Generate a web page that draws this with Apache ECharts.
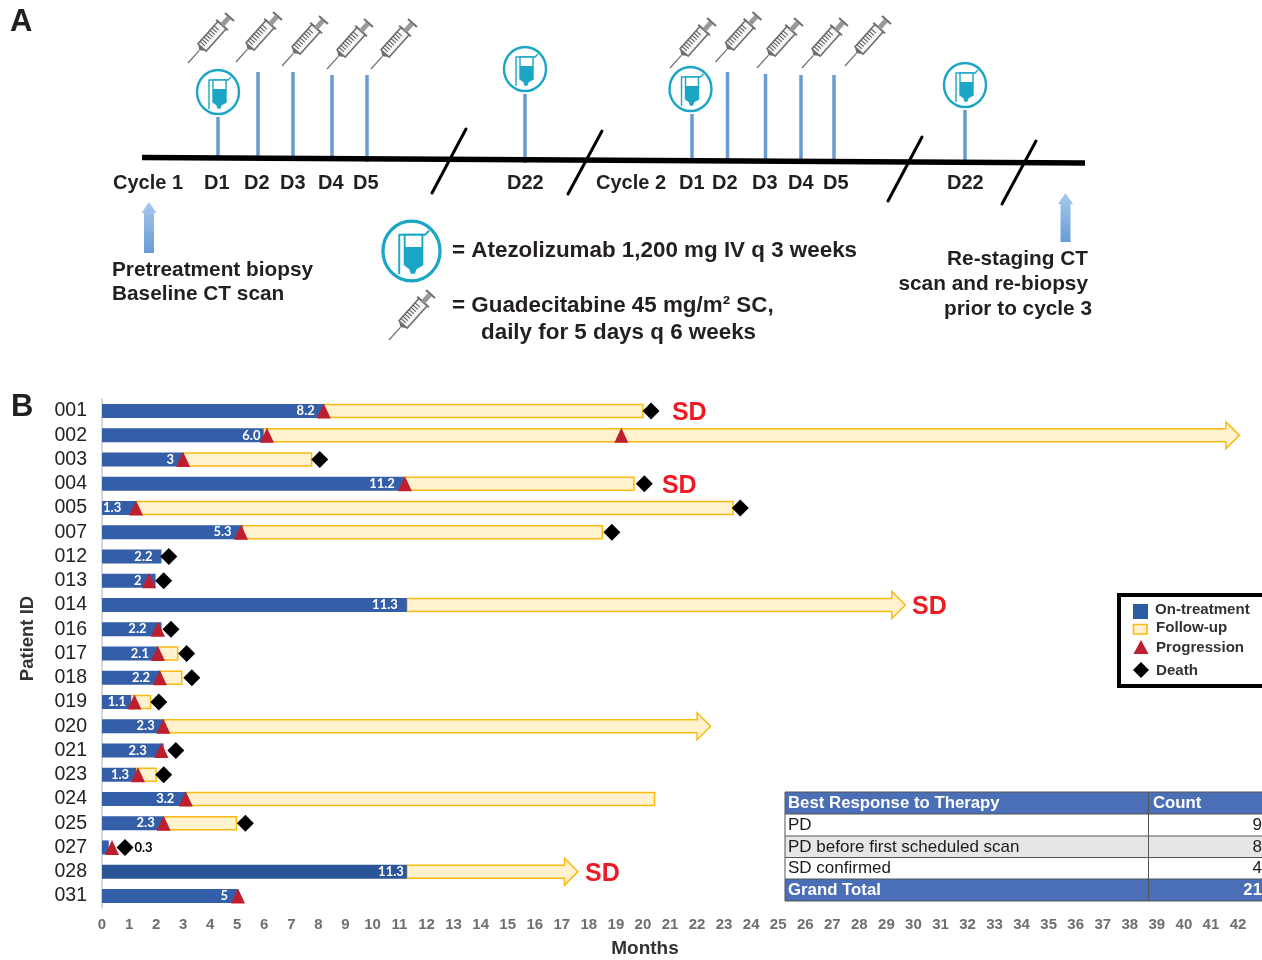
<!DOCTYPE html>
<html>
<head>
<meta charset="UTF-8">
<title>Atezolizumab + guadecitabine schema and swimmer plot</title>
<style>
html,body{margin:0;padding:0;background:#fff;}
#main{width:1262px;height:960px;}
</style>
</head>
<body>
<div id="main"></div>
<script src="https://cdn.jsdelivr.net/npm/echarts@6/dist/echarts.min.js"></script>
<script>
// panel B data, months
var patients = ['001','002','003','004','005','007','012','013','014','016','017','018','019','020','021','023','024','025','027','028','031'];
var onTreatment = [8.2,5.97,3.0,11.16,1.26,5.2,2.2,1.98,11.27,2.2,2.07,2.15,1.07,2.28,2.28,1.26,3.12,2.28,0.25,11.27,5.03];
var treatmentLabels = ['8.2','6.0','3','11.2','1.3','5.3','2.2','2','11.3','2.2','2.1','2.2','1.1','2.3','2.3','1.3','3.2','2.3','','11.3','5'];
var followUpEnd = [20.0,42.05,7.75,19.67,23.33,18.5,null,null,29.7,null,2.8,2.95,1.8,22.5,null,2.0,20.43,4.97,null,17.6,null];
var ongoingRows = ['002','014','020','028'];
var progressionRows = ['001','002','002','003','004','005','007','013','016','017','018','019','020','021','023','024','025','027','031'];
var progressionMonths = [8.2,6.1,19.2,3.0,11.2,1.26,5.14,1.74,2.07,2.07,2.14,1.2,2.27,2.2,1.33,3.1,2.28,0.37,5.03];
var deathRows = ['001','003','004','005','007','012','013','016','017','018','019','021','023','025','027'];
var deathMonths = [20.3,8.05,20.05,23.6,18.85,2.47,2.28,2.55,3.13,3.32,2.1,2.73,2.28,5.3,0.85];
var sdRows = ['001','004','014','028'];
var sdMonths = [21.07,20.7,29.95,17.86];
var legendNames = ['On-treatment','Follow-up','Progression','Death'];
var tableHeader = ['Best Response to Therapy','Count'];
var tableNames = ['PD','PD before first scheduled scan','SD confirmed'];
var tableCounts = [9,8,4];
var tableTotal = ['Grand Total',21];

var BLUE = '#345ea7', GOLD = '#fdb913', CREAM = '#fff2cc', RED = '#be1e2d', TEAL = '#1ba6c6', TICK = '#6a9bd1', INK = '#231f20';
var SANS = '"Liberation Sans", Arial, sans-serif';
var BOLD = 'bold 20px ' + SANS, BOLD_MID = 'bold 20.8px ' + SANS, BOLD_BIG = 'bold 22.4px ' + SANS;

var g = [];

function txt(x, y, s, font, fill, align) {
	g.push({type:'text', silent:true, z:5, style:{x:x, y:y, text:s, font:font||BOLD, fill:fill||INK,
		textAlign:align||'left', textVerticalAlign:'middle', align:align||'left', verticalAlign:'middle'}});
}
function seg(x1, y1, x2, y2, color, w, cap) {
	g.push({type:'line', silent:true, shape:{x1:x1,y1:y1,x2:x2,y2:y2}, style:{stroke:color, lineWidth:w, lineCap:cap||'round'}});
}
function syringe(x, y, k) {
	var c = '#6f6f6f', kids = [
		{type:'line', shape:{x1:0,y1:0,x2:17,y2:0}, style:{stroke:c,lineWidth:1.2}},
		{type:'polygon', shape:{points:[[17,0],[21,-5.5],[21,5.5]]}, style:{fill:c}},
		{type:'rect', shape:{x:21,y:-5.5,width:30,height:11}, style:{fill:'#f5f5f5',stroke:c,lineWidth:1.5}},
		{type:'line', shape:{x1:51,y1:-8,x2:51,y2:8}, style:{stroke:c,lineWidth:1.8}},
		{type:'line', shape:{x1:51,y1:0,x2:61,y2:0}, style:{stroke:'#999',lineWidth:5}},
		{type:'line', shape:{x1:62,y1:-6,x2:62,y2:6}, style:{stroke:c,lineWidth:2}}
	];
	for (var i = 0; i < 8; i++) {
		kids.push({type:'line', shape:{x1:24+i*3,y1:-5.5,x2:24+i*3,y2:1}, style:{stroke:'#555',lineWidth:1}});
	}
	g.push({type:'group', silent:true, x:x, y:y, rotation:48*Math.PI/180, scaleX:k, scaleY:k, children:kids});
}
function ivBag(x, y, k) {
	g.push({type:'group', silent:true, x:x, y:y, scaleX:k, scaleY:k, children:[
		{type:'ellipse', shape:{cx:0,cy:0,rx:21,ry:22}, style:{fill:'#fff',stroke:TEAL,lineWidth:2.4}},
		{type:'polyline', shape:{points:[[-9,17],[-9,-12],[10,-12],[13,-15]]}, style:{stroke:TEAL,lineWidth:1.4,fill:null}},
		{type:'polygon', shape:{points:[[-5,-12],[8,-12],[8,10],[3,13],[2,16],[0,16],[-1,13],[-5,10]]}, style:{fill:'#fff',stroke:TEAL,lineWidth:1.4}},
		{type:'polygon', shape:{points:[[-5,-3],[8,-3],[8,10],[3,13],[2,16],[0,16],[-1,13],[-5,10]]}, style:{fill:TEAL}}
	]});
}
function upArrow(x, top, bottom) {
	g.push({type:'polygon', silent:true, shape:{points:[[x,top],[x+7.5,top+11],[x+5,top+11],[x+5,bottom],[x-5,bottom],[x-5,top+11],[x-7.5,top+11]]},
		style:{fill:{type:'linear',x:0,y:0,x2:0,y2:1,colorStops:[{offset:0,color:'#a9c8ec'},{offset:1,color:'#669cd6'}]}}});
}

// panel A schema, a drawing and not data
txt(10, 22, 'A', 'bold 31px ' + SANS, INK);
txt(11, 407, 'B', 'bold 31px ' + SANS, INK);

[[218,117,160],[258,72,161],[293,72,161],[332,75,161],[367,75,162],[525,94,163],[692,114,161],[727.5,72,161],[765.5,74,163],[801,75,162],[834,75,162],[965,110,164]].forEach(function(t){
	seg(t[0], t[1], t[0], t[2], TICK, 3.5, 'butt');
});
seg(142, 157.5, 1085, 163, '#000', 5.5, 'butt');
[[432,193,466,129],[568,194,602,131],[888,201,922,137],[1002,204,1036,141]].forEach(function(s){
	seg(s[0], s[1], s[2], s[3], '#000', 3);
});
[[218,92],[525,69],[690.5,89],[965,85]].forEach(function(c){ ivBag(c[0], c[1], 1); });
ivBag(411.5, 251, 1.36);
[[188,63],[236,62],[282,66],[327,69],[371,69],[670,68],[715.5,62],[757,68],[802,68],[845,66]].forEach(function(c){ syringe(c[0], c[1], 1); });
syringe(389, 340, 1);
upArrow(149, 202, 253);
upArrow(1065.5, 193, 242);

[['Cycle 1',113],['D1',204],['D2',244],['D3',280],['D4',318],['D5',353],['D22',507],['Cycle 2',596],['D1',679],['D2',712],['D3',752],['D4',788],['D5',823],['D22',947]].forEach(function(d){
	txt(d[1], 183.5, d[0]);
});
txt(112, 270, 'Pretreatment biopsy', BOLD_MID);
txt(112, 294.5, 'Baseline CT scan', BOLD_MID);
txt(452, 250.5, '= Atezolizumab 1,200 mg IV q 3 weeks', BOLD_BIG);
txt(452, 305.5, '= Guadecitabine 45 mg/m\u00b2 SC,', BOLD_BIG);
txt(481, 333, 'daily for 5 days q 6 weeks', BOLD_BIG);
txt(1088, 259, 'Re-staging CT', BOLD_MID, INK, 'right');
txt(1088, 284, 'scan and re-biopsy', BOLD_MID, INK, 'right');
txt(1092, 309, 'prior to cycle 3', BOLD_MID, INK, 'right');

// legend box
var LEG = 'bold 15.1px ' + SANS;
g.push({type:'rect', silent:true, shape:{x:1119,y:595,width:150,height:91}, style:{fill:'#fff',stroke:'#000',lineWidth:4}});
g.push({type:'rect', silent:true, z:5, shape:{x:1133,y:604,width:15,height:15}, style:{fill:'#2d5ba3'}});
g.push({type:'rect', silent:true, z:5, shape:{x:1133.5,y:624.5,width:13.5,height:9.5}, style:{fill:CREAM,stroke:GOLD,lineWidth:1.6}});
g.push({type:'polygon', silent:true, z:5, shape:{points:[[1141,640],[1148.5,654],[1133.5,654]]}, style:{fill:RED}});
g.push({type:'polygon', silent:true, z:5, shape:{points:[[1141,662],[1149,670],[1141,678],[1133,670]]}, style:{fill:'#000'}});
txt(1155, 610, legendNames[0], LEG, '#333');
txt(1156, 628, legendNames[1], LEG, '#333');
txt(1156, 648, legendNames[2], LEG, '#333');
txt(1156, 670.5, legendNames[3], LEG, '#333');

// response table
var TB = 'bold 16.8px ' + SANS, TR = '17px ' + SANS;
var rowY = [792,814,836,857.5,879,901];
function band(i, fill) {
	g.push({type:'rect', silent:true, shape:{x:785,y:rowY[i],width:477,height:rowY[i+1]-rowY[i]}, style:{fill:fill}});
}
band(0,'#4a6fb6'); band(1,'#fff'); band(2,'#e6e7e5'); band(3,'#fff'); band(4,'#4a6fb6');
rowY.forEach(function(y){ seg(785, y, 1262, y, '#555', 1, 'butt'); });
seg(785, 792, 785, 901, '#555', 1, 'butt');
seg(1148.5, 792, 1148.5, 901, '#555', 1, 'butt');
txt(788, 803.5, tableHeader[0], TB, '#fff');
txt(1153, 803.5, tableHeader[1], TB, '#fff');
tableNames.forEach(function(n, i){
	txt(788, (rowY[i+1]+rowY[i+2])/2 + 0.5, n, TR, '#1a1a1a');
	txt(1262, (rowY[i+1]+rowY[i+2])/2 + 0.5, String(tableCounts[i]), TR, '#1a1a1a', 'right');
});
txt(788, 890.5, tableTotal[0], TB, '#fff');
txt(1262, 890.5, String(tableTotal[1]), TB, '#fff', 'right');

// extra room the label needs before the end of the blue bar
var labelGap = {'001':9,'002':3,'007':11,'013':14,'016':15,'018':10,'019':5,'021':17,'023':7,'024':12,'028':3,'031':10};

var treatmentData = onTreatment.map(function(v, i){
	var p = patients[i], item = {value:v, itemStyle:{color: p === '028' ? '#2a5597' : BLUE}};
	if (p === '005') {
		item.label = {position:'insideLeft', distance:1};
	} else {
		item.label = {position:'insideRight', distance: labelGap[p] === undefined ? 9 : labelGap[p]};
	}
	return item;
});
var followData = [];
followUpEnd.forEach(function(v, i){
	if (v !== null) {
		followData.push([onTreatment[i], i, v, ongoingRows.indexOf(patients[i]) >= 0 ? 1 : 0]);
	}
});

function renderFollowUp(params, api) {
	var a = api.coord([api.value(0), api.value(1)]);
	var b = api.coord([api.value(2), api.value(1)]);
	var h = 6.5, pts;
	if (api.value(3)) {
		pts = [[a[0],a[1]-h],[b[0]-13.5,a[1]-h],[b[0]-13.5,a[1]-13.5],[b[0],a[1]],[b[0]-13.5,a[1]+13.5],[b[0]-13.5,a[1]+h],[a[0],a[1]+h]];
	} else {
		pts = [[a[0],a[1]-h],[b[0],a[1]-h],[b[0],a[1]+h],[a[0],a[1]+h]];
	}
	return {type:'polygon', shape:{points:pts}, style:{fill:CREAM, stroke:GOLD, lineWidth:1.5}};
}

var chart = echarts.init(document.getElementById('main'));
chart.setOption({
	animation:false,
	backgroundColor:'#fff',
	graphic:g,
	grid:{left:102, top:399, width:1136, height:509, outerBoundsMode:'none'},
	xAxis:{
		type:'value', min:0, max:42, interval:1,
		axisLine:{show:false}, axisTick:{show:false}, splitLine:{show:false},
		axisLabel:{margin:9, color:'#6d6e71', fontFamily:'Liberation Sans', fontWeight:'bold', fontSize:15, hideOverlap:false, showMinLabel:true, showMaxLabel:true},
		name:'Months', nameLocation:'middle', nameGap:31,
		nameTextStyle:{fontFamily:'Liberation Sans', fontWeight:'bold', fontSize:19, color:'#333', padding:[0,50,0,0]}
	},
	yAxis:{
		type:'category', inverse:true, data:patients,
		axisLine:{show:true, lineStyle:{color:'#c9cbd3', width:1.5}}, axisTick:{show:false},
		axisLabel:{margin:15, color:'#222', fontFamily:'Liberation Sans', fontSize:19.5, interval:0, padding:[4,0,0,0]},
		name:'Patient ID', nameLocation:'middle', nameRotate:90, nameGap:65,
		nameTextStyle:{fontFamily:'Liberation Sans', fontWeight:'bold', fontSize:18.5, color:'#333', padding:[0,0,0,30]}
	},
	series:[
		{
			type:'custom', name:'Follow-up', renderItem:renderFollowUp, clip:false, z:2,
			encode:{x:[0,2], y:1}, data:followData
		},
		{
			type:'bar', name:'On-treatment', barWidth:14, z:3, data:treatmentData,
			label:{show:true, color:'#fff', fontFamily:'Lato', fontWeight:'bold', fontSize:13,
				formatter:function(p){ return treatmentLabels[p.dataIndex]; }}
		},
		{
			type:'scatter', name:'Progression', symbol:'triangle', symbolSize:[14,15], z:4,
			itemStyle:{color:RED, opacity:1},
			data:progressionMonths.map(function(v, i){ return [v, progressionRows[i]]; })
		},
		{
			type:'scatter', name:'Death', symbol:'diamond', symbolSize:17, z:4,
			itemStyle:{color:'#000', opacity:1},
			data:deathMonths.map(function(v, i){
				var item = {value:[v, deathRows[i]]};
				if (deathRows[i] === '027') {
					item.label = {show:true, position:'right', distance:1, formatter:'0.3', color:'#000',
						fontFamily:'Lato', fontWeight:'bold', fontSize:13};
				}
				return item;
			})
		},
		{
			type:'scatter', name:'SD', symbolSize:0, z:4, itemStyle:{opacity:1},
			label:{show:true, position:'right', distance:0, offset:[0,2], formatter:'SD', color:'#ed1c24',
				fontFamily:'Liberation Sans', fontWeight:'bold', fontSize:25},
			data:sdMonths.map(function(v, i){ return [v, sdRows[i]]; })
		}
	]
});
</script>
</body>
</html>
